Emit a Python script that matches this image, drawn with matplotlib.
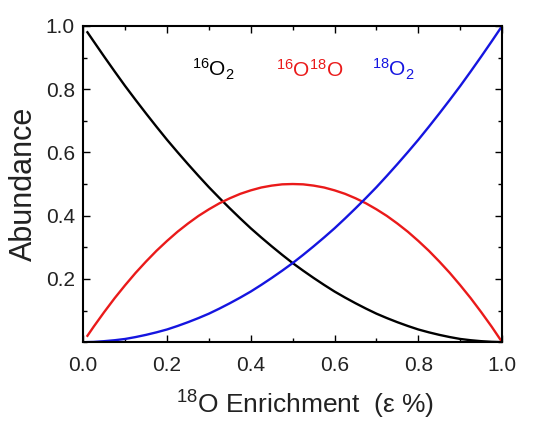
import matplotlib.pyplot as plt
from matplotlib.ticker import MultipleLocator

plt.rcParams['font.family'] = ['Liberation Sans', 'DejaVu Sans']
plt.rcParams['mathtext.fontset'] = 'custom'
plt.rcParams['mathtext.rm'] = 'Liberation Sans'
plt.rcParams['mathtext.it'] = 'Liberation Sans:italic'

# 18O enrichment and abundances
enrich = [0.01, 0.025, 0.05, 0.075, 0.10, 0.125, 0.15, 0.175, 0.20, 0.225, 0.25,
          0.275, 0.30, 0.325, 0.35, 0.375, 0.40, 0.425, 0.45, 0.475, 0.50,
          0.525, 0.55, 0.575, 0.60, 0.625, 0.65, 0.675, 0.70, 0.725, 0.75,
          0.775, 0.80, 0.825, 0.85, 0.875, 0.90, 0.925, 0.95, 0.975, 1.00]
o16_2 = [0.98, 0.951, 0.903, 0.856, 0.81, 0.766, 0.723, 0.681, 0.64, 0.601, 0.563,
         0.526, 0.49, 0.456, 0.423, 0.391, 0.36, 0.331, 0.303, 0.276, 0.25,
         0.226, 0.203, 0.181, 0.16, 0.141, 0.123, 0.106, 0.09, 0.076, 0.063,
         0.051, 0.04, 0.031, 0.023, 0.016, 0.01, 0.006, 0.003, 0.001, 0.0]
o16_o18 = [0.02, 0.049, 0.095, 0.139, 0.18, 0.219, 0.255, 0.289, 0.32, 0.349, 0.375,
           0.399, 0.42, 0.439, 0.455, 0.469, 0.48, 0.489, 0.495, 0.499, 0.50,
           0.499, 0.495, 0.489, 0.48, 0.469, 0.455, 0.439, 0.42, 0.399, 0.375,
           0.349, 0.32, 0.289, 0.255, 0.219, 0.18, 0.139, 0.095, 0.049, 0.0]
o18_2 = [0.0001, 0.0006, 0.003, 0.006, 0.01, 0.016, 0.023, 0.031, 0.04, 0.051, 0.063,
         0.076, 0.09, 0.106, 0.123, 0.141, 0.16, 0.181, 0.203, 0.226, 0.25,
         0.276, 0.303, 0.331, 0.36, 0.391, 0.423, 0.456, 0.49, 0.526, 0.563,
         0.601, 0.64, 0.681, 0.723, 0.766, 0.81, 0.856, 0.903, 0.951, 1.0]

red = '#ea1a1a'
blue = '#1515e0'

fig = plt.figure(figsize=(5.44, 4.25), dpi=100)
ax = fig.add_axes([0.153, 0.195, 0.77, 0.744])

ax.plot(enrich, o16_2, color='black', lw=1.7)
ax.plot(enrich, o16_o18, color=red, lw=1.7)
ax.plot(enrich, o18_2, color=blue, lw=1.7)

ax.set_xlim(0, 1.0)
ax.set_ylim(0, 1.0)
ax.set_xticks([0.0, 0.2, 0.4, 0.6, 0.8, 1.0])
ax.set_yticks([0.2, 0.4, 0.6, 0.8, 1.0])
ax.xaxis.set_minor_locator(MultipleLocator(0.1))
ax.yaxis.set_minor_locator(MultipleLocator(0.1))
ax.tick_params(which='both', direction='in', top=True, right=True, labelsize=15,
               width=1, labelcolor='#222222')
ax.tick_params(which='major', length=5)
ax.tick_params(axis='x', which='major', pad=10)
ax.tick_params(axis='y', which='major', pad=6)
ax.tick_params(which='minor', length=3)
for s in ax.spines.values():
    s.set_linewidth(1.5)

ax.set_xlabel(r'$^{18}$O Enrichment  (ε %)', fontsize=19, labelpad=10, color='#222222', x=0.53)
ax.set_ylabel('Abundance', fontsize=22, labelpad=5, color='#222222')

ax.text(0.31, 0.862, r'$^{16}$O$_2$', color='black', fontsize=15, ha='center', va='center')
ax.text(0.54, 0.862, r'$^{16}$O$^{18}$O', color=red, fontsize=15, ha='center', va='center')
ax.text(0.74, 0.862, r'$^{18}$O$_2$', color=blue, fontsize=15, ha='center', va='center')

fig.savefig('out.png', dpi=100)
